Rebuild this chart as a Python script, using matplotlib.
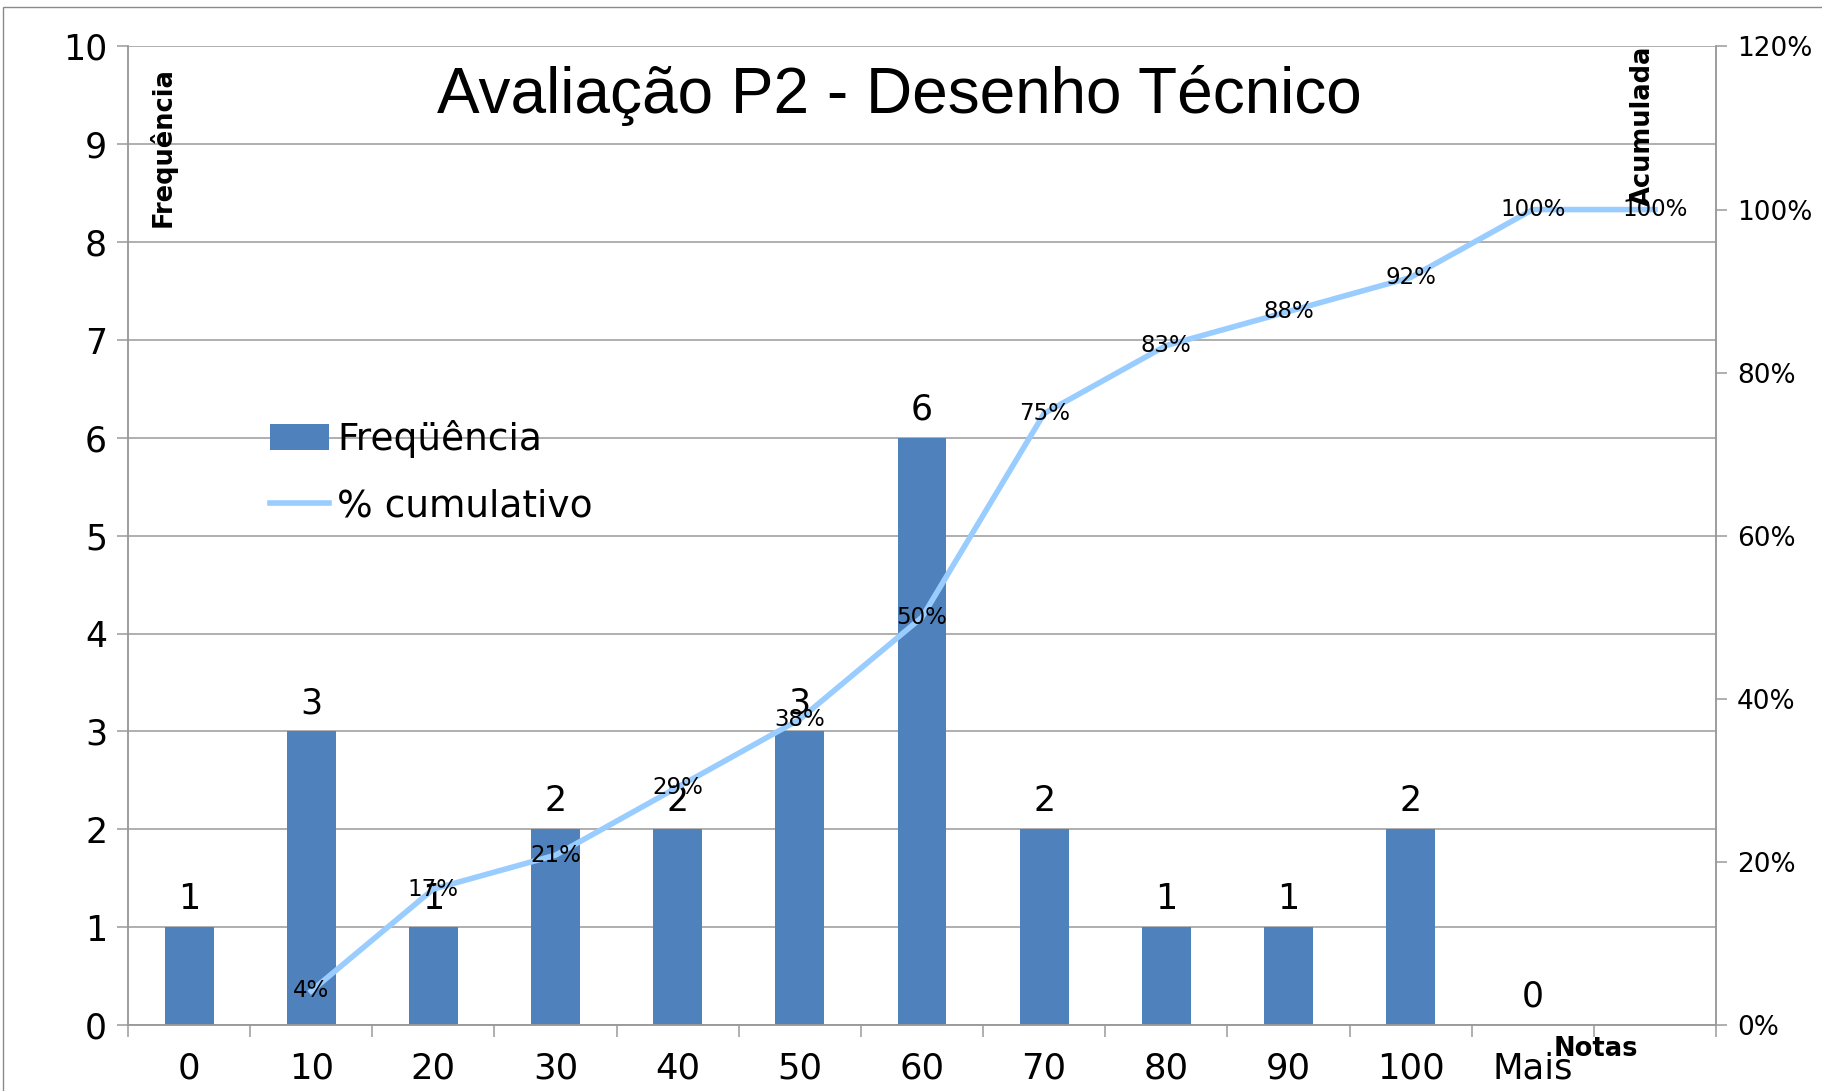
import matplotlib.pyplot as plt
from matplotlib.patches import Rectangle
from matplotlib.ticker import FuncFormatter

categorias = ['0', '10', '20', '30', '40', '50', '60', '70', '80', '90', '100', 'Mais']
frequencia = [1, 3, 1, 2, 2, 3, 6, 2, 1, 1, 2, 0]
# % cumulativo (a linha fica deslocada uma categoria para a direita)
acumulado = [0.0417, 0.1667, 0.2083, 0.2917, 0.375, 0.50, 0.75, 0.8333, 0.875, 0.9167, 1.0, 1.0]
ticks_pct = [0, 0.2, 0.4, 0.6, 0.8, 1.0, 1.2]

titulo = 'Avaliação P2 - Desenho Técnico'

azul_barra = '#4F81BD'
azul_linha = '#99CCFF'
cinza = '#9A9A9A'

plt.rcParams['font.family'] = ['DejaVu Sans']

fig = plt.figure(figsize=(18.22, 10.91), dpi=100)
ax = fig.add_axes([0.07025, 0.0605, 0.87157, 0.8969])
ax2 = ax.twinx()

x_barras = list(range(len(categorias)))
barras = ax.bar(x_barras, frequencia, width=0.4, color=azul_barra, zorder=2, label='Freqüência')
for x, f in zip(x_barras, frequencia):
    ax.annotate(str(f), (x, f), xytext=(0, 13), textcoords='offset points',
                ha='center', va='baseline', fontsize=25)

x_linha = [x + 1 for x in x_barras]
linha, = ax2.plot(x_linha, acumulado, color=azul_linha, lw=4, zorder=3, label='% cumulativo')
for x, v in zip(x_linha, acumulado):
    ax2.text(x, v, f'{v:.0%}', ha='center', va='center', fontsize=16.5, zorder=4)

ax.set_xlim(-0.5, len(categorias) + 0.5)
ax.set_ylim(0, 10)
ax2.set_ylim(0, 1.2)

ax.set_axisbelow(True)
ax.yaxis.grid(True, color=cinza, lw=1.1)

ax.set_xticks(range(len(categorias) + 1))
ax.set_xticklabels(categorias + [''])
ax.set_xticks([i - 0.5 for i in range(len(categorias) + 2)], minor=True)
ax.tick_params(axis='x', which='major', length=0, labelsize=25.5, pad=19)
ax.tick_params(axis='x', which='minor', length=8.5, width=1.1, color=cinza)

ax.set_yticks(range(11))
ax.tick_params(axis='y', length=8, width=1.1, color=cinza, labelsize=25, pad=7)

ax2.set_yticks(ticks_pct)
ax2.yaxis.set_major_formatter(FuncFormatter(lambda v, p: f'{v:.0%}'))
ax2.tick_params(axis='y', length=8, width=1.1, color=cinza, labelsize=19, pad=7)

for a in (ax, ax2):
    a.spines['top'].set_visible(False)
    for lado in ('left', 'right', 'bottom'):
        a.spines[lado].set_color(cinza)
        a.spines[lado].set_linewidth(1.1)

fig.text(0.4934, 0.8967, titulo, ha='center', va='baseline', fontsize=46,
         family='Liberation Sans')
fig.text(0.0895, 0.9386, 'Frequência', rotation=90, ha='center', va='top',
         fontsize=18.5, fontweight='bold')
fig.text(0.9018, 0.958, 'Acumulada', rotation=90, ha='center', va='top',
         fontsize=18.5, fontweight='bold')
fig.text(0.876, 0.0385, 'Notas', ha='center', va='center', fontsize=18.5, fontweight='bold')

fig.legend([barras, linha], ['Freqüência', '% cumulativo'], loc='upper left',
           bbox_to_anchor=(0.1378, 0.6318), frameon=False, fontsize=27, borderpad=0,
           handlelength=1.58, handletextpad=0.22, labelspacing=0.8)

fig.patches.append(Rectangle((0.0018, -0.05), 1.1, 1.0433, transform=fig.transFigure,
                             fill=False, edgecolor='#8A8A8A', lw=1))

fig.savefig('out.png', dpi=100)
